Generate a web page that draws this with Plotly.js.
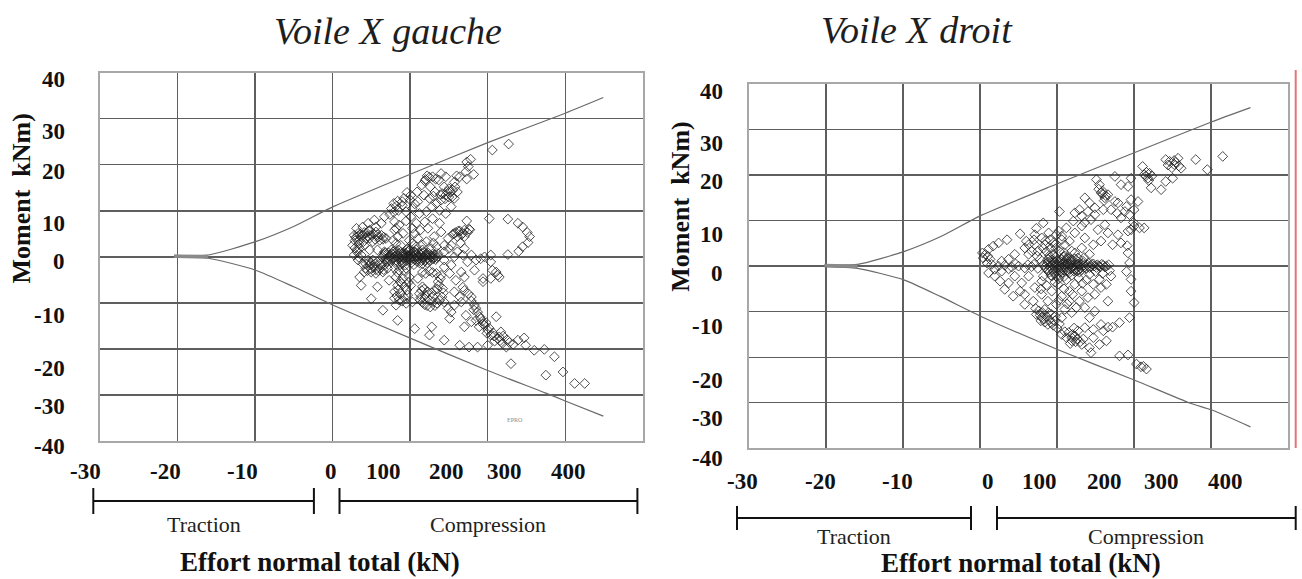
<!DOCTYPE html>
<html><head><meta charset="utf-8">
<script src="https://cdn.plot.ly/plotly-3.0.1.min.js"></script>
<style>html,body{margin:0;padding:0;background:#fff}#chart{width:1302px;height:579px}</style>
</head><body><div id="chart"></div><script>
// ---------- DATA (chart units: x grid -30..40, y -40..40) ----------
const yTickText = ['40','30','20','10','0','-10','-20','-30','-40'];
const xTickText = ['-30','-20','-10','0','100','200','300','400'];

const envLeftUpperX = [-20.4,-16.0,-9.9,-5.0,0.1,10.1,20.0,30.0,34.9];
const envLeftUpperY = [0.3,0.4,3.3,6.6,10.9,18.0,24.8,31.2,34.6];
const envLeftLowerX = [-20.4,-16.0,-9.9,-5.0,0.1,10.1,20.0,27.5,30.0,34.9];
const envLeftLowerY = [-0.1,-0.3,-2.9,-6.5,-10.5,-17.7,-24.7,-29.6,-31.3,-34.6];
const envRightUpperX = [-20.2,-15.9,-9.9,-5.1,0.2,10.2,20.0,30.1,35.1];
const envRightUpperY = [0.3,0.4,3.2,6.5,11.2,18.2,24.9,31.7,34.8];
const envRightLowerX = [-20.2,-15.9,-9.9,-5.1,0.2,10.2,20.0,27.3,30.1,35.1];
const envRightLowerY = [-0.1,-0.5,-3.0,-6.7,-11.1,-18.4,-25.0,-30.1,-31.6,-35.3];

const leftBlob = [[6.6,0.3],[6.9,-0.5],[7.2,0.9],[7.3,0.1],[7.5,-0.8],[7.7,0.6],[7.9,-0.3],[8.1,0.9],[8.2,-1.1],[8.4,0.2],[8.6,-0.5],[8.8,1.0],[8.9,-1.2],[9.0,0.4],[9.2,-0.3],[9.4,0.8],[9.5,-0.9],[9.7,0.2],[9.8,1.3],[9.9,-0.5],[10.1,0.7],[10.2,-1.2],[10.4,0.1],[10.5,1.1],[10.6,-0.6],[10.8,0.5],[10.9,-1.0],[11.1,0.9],[11.2,-0.2],[11.4,0.4],[11.5,-0.8],[11.7,1.0],[11.8,0.0],[12.0,-0.6],[12.1,0.7],[12.3,-0.2],[12.5,0.5],[12.6,-0.9],[12.8,0.2],[13.0,-0.4],[13.2,0.4],[13.4,-0.2],[13.6,0.1],[8.5,1.5],[9.6,1.6],[10.8,1.5],[8.3,-1.7],[9.4,-1.8],[10.5,-1.7],[11.6,-1.5],[7.0,-1.2],[6.8,0.9],[9.1,0.0],[10.0,-0.1],[11.0,0.2],[12.2,0.3]];
const leftBlob2 = [[6.4,-0.1],[6.7,0.6],[7.0,-0.9],[7.4,0.4],[7.6,-0.4],[7.8,1.1],[8.0,0.0],[8.2,-0.7],[8.5,0.7],[8.7,-0.1],[8.9,-0.8],[9.1,0.9],[9.3,0.3],[9.5,-0.4],[9.7,1.0],[9.9,0.3],[10.1,-0.7],[10.3,0.8],[10.5,-0.2],[10.7,1.0],[10.9,0.0],[11.0,-0.6],[11.3,0.6],[11.5,-0.2],[11.6,0.7],[11.9,-0.9],[12.0,0.4],[12.3,0.9],[12.4,-0.6],[12.7,-0.1],[12.9,0.6],[13.1,-0.1],[13.3,-0.6],[9.0,-1.5],[10.0,1.6],[11.2,-1.3],[12.2,-1.3],[8.0,1.3],[7.2,-0.3],[9.8,0.0]];
const leftUpper = [[17.8,21.2],[18.2,17.9],[17.3,16.9],[16.4,17.4],[15.7,16.2],[15.2,14.1],[15.4,13.0],[14.6,13.4],[14.4,15.2],[13.7,16.7],[12.9,17.4],[12.2,17.6],[11.9,16.5],[11.5,15.6],[12.6,15.2],[13.2,14.1],[14.0,12.3],[13.4,11.6],[12.5,12.7],[11.8,13.4],[10.9,14.1],[10.1,13.4],[9.6,14.0],[9.2,12.7],[8.4,12.1],[7.9,11.6],[7.6,10.5],[8.5,10.1],[9.5,9.8],[10.3,10.5],[11.2,9.4],[12.1,9.8],[12.8,10.9],[13.8,10.1],[14.6,9.4],[15.3,10.9],[15.7,12.7],[16.1,14.1],[14.6,17.4],[14.0,18.1],[17.2,18.5],[17.5,19.6],[20.6,23.2],[22.7,24.5],[17.3,20.6],[16.0,17.6],[15.8,15.2],[15.0,14.8],[13.0,13.2],[11.0,12.0],[9.0,11.2],[10.6,11.5]];
const leftMid = [[6.7,8.7],[6.3,7.3],[5.6,6.5],[4.8,5.8],[10.1,8.7],[10.8,7.3],[11.9,7.6],[12.9,8.3],[13.8,7.3],[12.3,6.2],[11.3,5.8],[10.3,6.2],[9.5,7.8],[8.6,6.9],[8.0,5.8],[8.4,4.4],[8.2,2.9],[9.1,5.1],[9.9,3.6],[11.0,4.0],[12.1,3.3],[13.1,4.4],[14.0,5.4],[14.9,4.0],[14.4,2.5],[13.4,2.2],[15.3,2.5],[16.1,4.4],[16.8,5.1],[17.4,5.3],[17.0,4.4],[15.7,5.1],[16.1,1.1],[17.0,1.8],[17.9,0.4],[8.0,7.6],[8.2,6.2],[7.8,3.6],[8.8,2.5],[9.7,1.8],[10.8,2.2],[11.6,1.5],[12.7,1.8],[13.6,0.7],[14.4,1.1],[7.6,1.5],[6.7,1.1],[5.8,1.5],[4.8,1.5],[4.1,2.5],[10.6,5.1],[17.3,7.8],[16.2,5.6],[17.7,5.9],[15.5,4.9],[15.9,5.3],[16.4,5.6],[17.0,5.8],[17.6,6.0],[16.6,4.8]];
const leftRing = [[20.2,8.3],[22.6,8.2],[23.9,7.3],[24.5,6.5],[25.1,5.3],[25.4,4.4],[25.2,3.1],[24.5,2.2],[24.0,1.2],[22.6,0.5],[20.4,0.4]];
const leftRight = [[19.1,-0.4],[20.4,-1.1],[20.6,-2.9],[21.3,-4.0],[20.4,-4.7],[19.4,-4.7],[18.3,-2.9],[17.4,-1.1],[16.6,-3.3],[15.9,-5.1],[14.4,-0.7],[15.3,-1.8],[14.4,-2.2],[15.1,-3.6],[14.0,-4.0],[15.7,0.0],[16.8,0.4],[18.5,-0.7],[19.6,0.0],[17.0,-4.4],[15.7,-7.6],[16.4,-8.7],[19.4,-5.4],[21.1,-3.3],[21.5,-4.4]];
const leftLower = [[17.0,-7.3],[17.9,-8.7],[18.3,-10.5],[18.7,-12.0],[19.1,-13.4],[19.6,-14.9],[18.9,-15.2],[20.0,-15.9],[20.4,-17.0],[21.3,-17.8],[21.9,-18.8],[22.4,-19.6],[21.1,-13.0],[21.7,-16.3],[23.9,-18.1],[24.7,-17.6],[24.9,-19.2],[26.0,-20.3],[27.3,-20.1],[28.6,-21.7],[29.7,-25.0],[27.5,-25.7],[23.0,-23.2],[31.2,-27.5],[32.5,-27.5],[20.0,-19.2],[18.7,-19.6],[17.6,-19.6],[16.4,-19.2],[14.4,-18.1],[12.5,-17.0],[12.8,-15.2],[10.6,-15.6],[8.4,-13.8],[6.5,-11.6],[5.0,-9.1],[5.8,-6.5],[3.7,-6.2],[3.5,-4.4],[4.1,-3.3],[15.1,-13.4],[15.3,-12.0],[14.9,-11.2],[14.4,-9.8],[15.7,-10.5],[16.6,-9.8],[17.2,-12.7],[17.9,-14.1],[17.0,-15.2],[18.5,-13.8],[19.8,-14.3],[18.2,-11.5],[20.9,-18.3],[22.0,-17.2],[19.3,-14.0],[19.9,-16.6],[20.7,-16.5],[21.6,-18.2],[22.8,-18.6],[23.3,-19.0]];
const leftSide = [[2.8,4.7],[3.3,5.1],[3.7,4.4],[4.1,5.3],[3.5,3.6],[4.3,4.0],[5.0,4.7],[5.6,5.4],[6.3,4.7],[5.2,3.3],[6.1,3.6],[6.9,4.0],[3.1,6.2],[3.9,6.5],[4.6,7.3],[5.4,8.0],[2.6,2.5],[3.1,1.5],[2.8,0.4],[3.5,1.8],[3.3,-0.7],[3.9,-1.5],[3.7,0.4],[4.6,-0.7],[5.2,-0.7],[5.8,-1.1],[4.8,-1.8],[5.4,-2.2],[6.1,-2.5],[6.7,-1.8],[5.0,-3.3],[5.6,-3.6],[6.5,-3.3],[7.1,-2.5],[4.3,-2.5],[3.0,4.2],[3.6,4.9],[4.5,4.5],[4.7,5.6],[5.9,4.3],[6.6,4.3],[2.9,3.5],[4.0,3.3],[5.0,-1.3],[5.6,-2.8],[6.3,-1.3],[4.5,-3.0]];
const leftStem = [[8.0,-2.5],[8.6,-2.9],[9.5,-2.5],[8.2,-4.4],[9.1,-4.7],[9.9,-4.4],[8.4,-6.2],[9.3,-6.5],[8.0,-7.6],[8.8,-8.0],[9.7,-8.3],[8.6,-9.4],[9.5,-10.1],[10.3,-9.8],[8.2,-10.5],[10.1,-6.2],[7.3,-5.1],[8.7,-5.3],[9.6,-7.2],[8.3,-8.5],[9.0,-9.6]];
const leftLoop = [[11.6,-3.3],[12.5,-3.1],[13.4,-3.6],[13.9,-4.7],[13.7,-6.2],[13.1,-7.3],[12.3,-7.6],[11.6,-6.5],[11.2,-8.0],[11.3,-9.4],[11.9,-10.4],[12.6,-10.9],[13.5,-10.1],[14.1,-8.7],[14.2,-6.9],[11.9,-9.1],[12.5,-9.4],[11.0,-4.7],[12.0,-8.3],[12.9,-8.6],[13.0,-9.8],[11.5,-7.3]];
const leftDense = [[3.2,4.4],[3.9,4.7],[4.4,5.2],[5.3,5.0],[5.8,4.8],[4.8,4.1],[5.5,3.8],[6.5,3.8],[3.4,2.8],[2.9,1.9],[3.2,1.0],[3.4,-0.1],[5.0,-2.6],[5.9,-3.0],[6.2,-1.9],[4.7,-1.2],[5.5,-1.5],[6.6,-2.8],[4.3,-1.5],[8.4,-3.4],[9.2,-3.0],[8.5,-7.1],[9.2,-8.8],[8.9,-5.8],[9.8,-5.5],[8.0,-9.0],[12.0,-3.6],[12.9,-3.4],[13.6,-5.4],[13.5,-7.0],[12.8,-7.8],[11.8,-7.0],[11.4,-8.8],[11.6,-9.9],[12.2,-10.6],[13.2,-10.6],[13.8,-9.5],[14.3,-7.8],[14.2,13.7],[14.8,14.2],[15.0,13.0],[14.5,12.6],[13.9,13.5],[15.5,14.5],[12.0,16.8],[12.5,17.3],[13.3,16.9],[19.4,-14.6],[19.0,-13.0],[20.2,-15.5],[20.8,-17.2],[21.5,-17.4],[22.5,-18.0],[17.9,-9.6],[18.5,-11.2],[17.5,-8.0],[16.8,-6.6],[9.0,12.0],[8.2,11.0],[7.9,9.7],[7.4,9.2],[10.0,12.4],[16.5,3.0],[15.0,1.8],[13.0,3.0],[11.6,2.6],[10.3,2.9]];

const rightBlob = [[8.2,0.3],[8.6,-0.6],[8.8,0.9],[9.0,-1.3],[9.1,0.1],[9.3,1.4],[9.4,-0.7],[9.6,0.6],[9.7,-1.6],[9.9,-0.1],[10.0,1.2],[10.2,-1.0],[10.3,0.4],[10.5,-0.4],[10.6,1.5],[10.7,-1.4],[10.9,0.8],[11.0,-0.2],[11.2,1.1],[11.3,-0.9],[11.5,0.3],[11.6,-1.5],[11.8,0.9],[11.9,-0.4],[12.1,0.2],[12.2,-1.1],[12.4,0.7],[12.5,-0.3],[12.7,1.0],[12.8,-0.8],[13.0,0.3],[13.1,-0.4],[13.4,0.6],[13.6,-0.2],[13.9,0.3],[14.2,-0.3],[14.5,0.4],[14.8,0.0],[15.2,0.3],[15.6,-0.2],[16.0,0.2],[16.4,0.0],[16.7,0.3],[9.8,2.0],[10.8,2.1],[9.9,-2.2],[10.9,-2.3],[11.9,-2.0],[9.2,-2.0],[10.4,0.0],[11.4,0.5],[12.9,-1.3],[13.3,1.2]];
const rightBlob2 = [[8.4,-0.2],[8.7,0.4],[8.9,-0.9],[9.2,0.8],[9.4,0.2],[9.5,-1.2],[9.7,1.0],[9.9,0.4],[10.1,-0.6],[10.2,1.0],[10.4,-1.3],[10.6,0.5],[10.7,-0.2],[10.9,-0.9],[11.1,0.3],[11.2,1.5],[11.4,-1.2],[11.6,0.2],[11.7,-0.6],[11.9,1.3],[12.0,-0.1],[12.3,-0.8],[12.4,0.3],[12.6,-1.1],[12.7,0.5],[12.9,0.0],[13.2,-0.8],[13.5,0.2],[13.8,-0.5],[14.1,0.6],[14.4,-0.1],[14.7,0.5],[15.1,-0.3],[15.4,0.1],[15.8,0.4],[16.2,-0.2],[9.0,1.8],[10.3,-2.0],[11.3,1.9],[12.3,1.6]];
const rightArm = [[1.5,0.4],[2.4,0.0],[3.2,0.2],[4.1,-0.2],[5.0,0.0],[5.8,-0.4],[6.7,-0.1],[7.5,-0.5],[1.9,-0.7],[2.8,-1.1],[7.0,0.4],[6.2,0.3],[4.6,0.5],[3.7,-0.6]];
const rightEdgeUp = [[0.7,2.6],[1.1,3.7],[1.7,4.4],[2.4,5.1],[3.5,5.8],[5.2,7.1],[7.3,8.3],[8.2,9.5],[7.1,6.9],[6.3,4.7],[6.7,3.3],[5.8,4.0],[4.5,2.6],[3.7,1.5],[2.8,1.1],[1.3,1.5],[0.4,1.8],[0.9,0.7],[0.3,2.9],[1.0,2.2]];
const rightCore = [[6.3,2.6],[7.5,3.3],[8.4,4.7],[9.1,5.8],[9.7,4.7],[10.3,3.3],[9.5,2.6],[11.0,2.2],[11.9,3.3],[12.7,1.8],[9.9,6.9],[11.0,4.7],[8.8,1.5],[7.8,1.5],[13.2,4.0],[14.2,2.6],[8.0,6.2],[7.1,4.7],[8.6,3.2],[9.2,3.9],[10.6,5.8],[7.0,5.8],[8.9,7.3],[6.0,5.5],[12.3,2.9],[13.5,1.9],[11.5,1.6]];
const rightUpper = [[31.5,24.1],[29.5,21.2],[28.0,23.4],[26.1,21.5],[25.7,23.7],[25.2,22.3],[24.6,23.0],[24.1,23.4],[25.0,19.3],[24.1,18.6],[23.5,16.8],[22.2,17.2],[21.8,19.3],[21.3,20.1],[22.0,20.4],[21.1,21.9],[19.6,19.3],[19.2,17.5],[18.3,17.9],[17.5,19.7],[15.1,19.0],[15.5,17.9],[15.7,16.1],[16.2,15.0],[16.6,15.7],[17.5,14.2],[17.9,13.9],[19.6,14.6],[20.5,14.2],[20.0,12.4],[19.4,11.3],[18.3,10.6],[19.0,13.1],[17.0,12.4],[16.0,12.4],[13.6,15.0],[14.2,13.9],[14.9,12.8],[14.0,12.0],[12.3,11.7],[13.2,11.0],[10.3,12.0],[12.1,9.9],[13.2,8.8],[14.4,10.2],[15.3,8.0],[16.2,9.1],[16.6,7.3],[17.9,6.9],[19.2,7.7],[20.0,8.8],[20.7,8.4],[21.3,8.4],[19.6,8.0],[11.2,8.4],[12.3,7.3],[10.6,6.6],[11.6,5.5],[13.6,6.2],[14.7,4.7],[15.7,5.5],[17.2,4.7],[18.3,5.1],[21.5,19.8],[21.9,18.8],[25.4,22.8],[24.9,21.6],[25.8,22.0],[15.9,16.5],[16.3,15.5],[15.4,16.9]];
const rightEdge = [[19.2,2.9],[19.4,0.7],[19.6,-2.9],[19.6,-5.5],[20.0,-8.0],[19.4,-11.3],[18.1,-12.4],[17.2,-13.4],[16.6,-13.4],[16.0,-14.2],[16.4,-16.4],[15.5,-17.2],[14.4,-19.0],[14.2,-17.9],[19.1,4.5],[19.0,-1.2]];
const rightOut = [[18.1,-19.7],[19.2,-19.5],[20.3,-21.5],[20.9,-22.1],[21.6,-22.6],[21.2,-22.0]];
const rightMid = [[16.6,-7.7],[17.0,-2.2],[16.4,-4.0],[14.9,-6.2],[15.5,-2.9],[15.7,-4.7],[15.7,-12.8],[14.7,-15.7],[14.2,-1.8],[15.0,-1.2],[15.9,-1.6],[16.8,-1.0],[13.8,-3.0],[12.8,-2.6],[11.2,-3.0],[10.2,-2.8]];
const rightLower = [[1.1,-1.5],[1.9,-2.2],[2.6,-3.3],[3.7,-3.7],[3.2,-5.1],[4.3,-6.6],[5.4,-3.7],[5.8,-6.2],[5.8,-8.4],[6.9,-7.7],[7.3,-10.6],[8.0,-11.3],[8.8,-12.8],[9.7,-12.0],[10.6,-15.0],[11.2,-15.7],[11.9,-16.4],[12.3,-15.3],[13.2,-17.2],[12.7,-14.2],[13.6,-13.5],[14.7,-13.9],[14.2,-11.3],[14.9,-9.9],[13.6,-9.1],[12.5,-9.1],[11.9,-10.2],[11.0,-9.5],[10.6,-11.3],[9.3,-10.6],[8.4,-9.5],[8.8,-7.7],[8.0,-6.2],[7.1,-4.7],[8.0,-3.3],[9.3,-5.5],[10.1,-4.0],[10.6,-6.6],[11.6,-5.5],[12.3,-4.0],[13.2,-5.5],[14.0,-6.9],[14.7,-4.0],[11.6,-7.7],[12.9,-7.7],[9.9,-8.4],[8.2,-2.2],[9.3,-2.2],[6.3,-2.2],[4.5,-2.2],[5.2,-5.5],[7.6,-9.8],[8.1,-10.2],[8.6,-11.0],[9.0,-11.8],[9.5,-13.0],[10.0,-13.6],[8.4,-12.3],[7.9,-12.0],[11.5,-14.6],[12.0,-15.0],[12.6,-16.0],[13.0,-16.6],[11.7,-17.0]];
const rightDense = [[7.2,-9.3],[7.8,-10.8],[8.3,-11.7],[9.2,-12.4],[9.8,-11.0],[8.9,-10.2],[10.3,-12.7],[11.0,-14.4],[11.9,-15.7],[12.4,-16.6],[13.4,-16.0],[12.2,-13.6],[7.9,-5.0],[8.6,-4.2],[9.7,-3.5],[10.9,-5.0],[12.0,-6.2],[13.3,-3.8],[10.2,-7.5],[11.3,-8.3],[9.0,2.3],[8.2,3.9],[7.4,2.2],[9.8,3.9],[10.9,3.0],[8.5,5.6],[9.6,5.2],[10.2,7.7],[15.9,15.9],[16.1,14.4],[21.6,20.6],[22.3,19.8],[25.2,23.2],[24.4,22.2],[17.8,11.6],[18.8,12.0],[19.9,9.6],[13.6,9.6],[14.9,11.3],[12.9,12.4]];

// ---------- LAYOUT CONSTANTS (pixels) ----------
const W = 1302, H = 579;
const fx = v => v / W, fy = v => 1 - v / H;
const SERIF = 'Liberation Serif, Times New Roman, serif';

const leftPts = [].concat(leftBlob, leftBlob2, leftUpper, leftMid, leftRing, leftRight, leftLower, leftSide, leftStem, leftLoop, leftDense);
const rightPts = [].concat(rightBlob, rightBlob2, rightArm, rightEdgeUp, rightCore, rightUpper, rightEdge, rightOut, rightMid, rightLower, rightDense);

const markerStyle = {symbol: 'diamond-open', size: 7.5, color: 'rgba(30,30,30,0.78)', line: {width: 1}};
const envStyle = {color: '#6a6a6a', width: 1.2, shape: 'spline', smoothing: 0.6};

const traces = [
  {x: envLeftUpperX, y: envLeftUpperY, mode: 'lines', line: envStyle, xaxis: 'x', yaxis: 'y'},
  {x: envLeftLowerX, y: envLeftLowerY, mode: 'lines', line: envStyle, xaxis: 'x', yaxis: 'y'},
  {x: [envLeftUpperX[0], envLeftUpperX[1]], y: [0.15, 0.1], mode: 'lines', line: {color: '#8a8a8a', width: 3.5}, xaxis: 'x', yaxis: 'y'},
  {x: leftPts.map(p => p[0]), y: leftPts.map(p => p[1]), mode: 'markers', marker: markerStyle, xaxis: 'x', yaxis: 'y'},
  {x: envRightUpperX, y: envRightUpperY, mode: 'lines', line: envStyle, xaxis: 'x2', yaxis: 'y2'},
  {x: envRightLowerX, y: envRightLowerY, mode: 'lines', line: envStyle, xaxis: 'x2', yaxis: 'y2'},
  {x: [envRightUpperX[0], envRightUpperX[1]], y: [0.15, 0.0], mode: 'lines', line: {color: '#8a8a8a', width: 3.5}, xaxis: 'x2', yaxis: 'y2'},
  {x: rightPts.map(p => p[0]), y: rightPts.map(p => p[1]), mode: 'markers', marker: markerStyle, xaxis: 'x2', yaxis: 'y2'}
];

const gridAxis = (domain, range, anchor) => ({
  domain, range, anchor, dtick: 10, tick0: 0, showgrid: true, gridcolor: '#5e5e5e', gridwidth: 1.4,
  zeroline: false, showticklabels: false, ticks: '', showline: true, mirror: true, linecolor: '#a8a8a8', linewidth: 2, fixedrange: true
});

const panels = [
  {plot: [99.6, 642.9, 72.7, 441], yLabX: 67, yLabY: [80,131.7,171.7,223.3,261.7,315,368.3,406.7,446.7],
   xLabX: [85,165,242,331,383,446,504,568], xLabY: 471,
   bracketY: 501, tickH: 13, trac: [93.3, 313.9], comp: [339.5, 637.4], subY: 524,
   effX: 320, effY: 562, ytX: 21, ytY: 198.5, title: 'Voile X gauche', titleX: 388, titleY: 31},
  {plot: [749, 1288.2, 84, 448.3], yLabX: 725, yLabY: [91.7,143.3,181.7,235,273.3,326.7,380,418.3,458],
   xLabX: [742,820,897,988,1039,1104,1161,1225], xLabY: 481,
   bracketY: 518, tickH: 12, trac: [737, 971], comp: [997, 1295.7], subY: 536,
   effX: 1021, effY: 563, ytX: 681, ytY: 206.7, title: 'Voile X droit', titleX: 916.5, titleY: 30}
];

const annotations = [], shapes = [];
const A = (text, x, y, size, extra) => Object.assign({text, x: fx(x), y: fy(y), xref: 'paper', yref: 'paper', showarrow: false,
  xanchor: 'center', yanchor: 'middle', font: {family: SERIF, size, color: '#111'}}, extra || {});
const L = (x0, y0, x1, y1, color, width) => ({type: 'line', xref: 'paper', yref: 'paper', x0: fx(x0), y0: fy(y0), x1: fx(x1), y1: fy(y1), line: {color: color || '#111', width: width || 2}});

panels.forEach(p => {
  yTickText.forEach((t, i) => annotations.push(A('<b>' + t + '</b>', p.yLabX, p.yLabY[i], 23, {xanchor: 'right'})));
  xTickText.forEach((t, i) => annotations.push(A('<b>' + t + '</b>', p.xLabX[i], p.xLabY, 23)));
  annotations.push(A('Traction', (p.trac[0] + p.trac[1]) / 2, p.subY, 22, {font: {family: SERIF, size: 22, color: '#222'}}));
  annotations.push(A('Compression', (p.comp[0] + p.comp[1]) / 2, p.subY, 22, {font: {family: SERIF, size: 22, color: '#222'}}));
  annotations.push(A('<b>Effort normal total (kN)</b>', p.effX, p.effY, 27));
  annotations.push(A('<b>Moment\u00a0 kNm)</b>', p.ytX, p.ytY, 26, {textangle: -90}));
  annotations.push(A('<i>' + p.title + '</i>', p.titleX, p.titleY, 38, {font: {family: SERIF, size: 38, color: '#1e1e1e'}}));
  [p.trac, p.comp].forEach(b => {
    shapes.push(L(b[0], p.bracketY, b[1], p.bracketY));
    shapes.push(L(b[0], p.bracketY - p.tickH, b[0], p.bracketY + p.tickH));
    shapes.push(L(b[1], p.bracketY - p.tickH, b[1], p.bracketY + p.tickH));
  });
});
annotations.push(A('EPRO', 515, 420, 6, {font: {family: SERIF, size: 6, color: '#8a8a8a'}}));
shapes.push(L(1295.7, 70, 1295.7, 448, '#e57373', 2));

const P0 = panels[0].plot, P1 = panels[1].plot;
const layout = {
  width: W, height: H, margin: {l: 0, r: 0, t: 0, b: 0}, paper_bgcolor: '#fff', plot_bgcolor: '#fff', showlegend: false,
  xaxis: gridAxis([fx(P0[0]), fx(P0[1])], [-30, 40], 'y'),
  yaxis: gridAxis([fy(P0[3]), fy(P0[2])], [-40, 40], 'x'),
  xaxis2: gridAxis([fx(P1[0]), fx(P1[1])], [-30, 40], 'y2'),
  yaxis2: gridAxis([fy(P1[3]), fy(P1[2])], [-40, 40], 'x2'),
  annotations, shapes
};
Plotly.newPlot('chart', traces, layout, {staticPlot: true, displayModeBar: false});
</script></body></html>
